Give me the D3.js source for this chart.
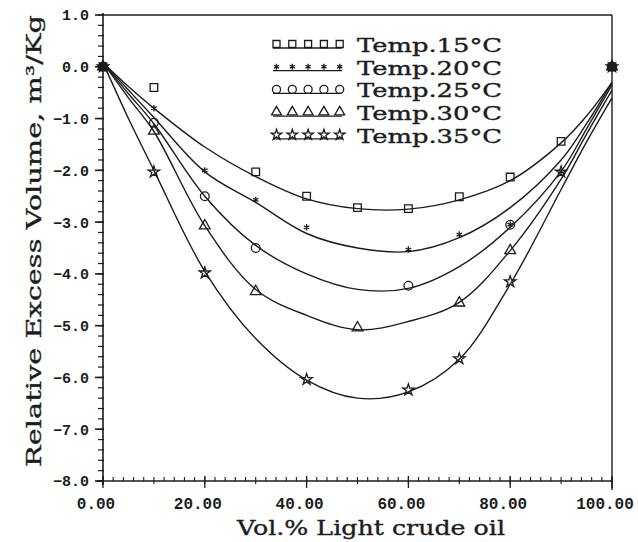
<!DOCTYPE html>
<html>
<head>
    <title>Relative Excess Volume</title>
    <script src="https://d3js.org/d3.v7.min.js"></script>
    <style>
        body { margin: 0; background: #fff; }
        .curve { fill: none; stroke: #1c1c1c; stroke-width: 1.4px; }
        .mark { fill: none; stroke: #1c1c1c; stroke-width: 1.3px; }
        .tick-label { font-family: "Liberation Mono", monospace; font-weight: bold; fill: #1c1c1c; }
        .title { font-family: "DejaVu Serif", serif; fill: #1c1c1c; stroke: #1c1c1c; stroke-width: 0.35px; }
    </style>
</head>
<body>
    <div id="chart"></div>
    <script>
        // temperatures in the legend
        const series = ["Temp.15°C", "Temp.20°C", "Temp.25°C", "Temp.30°C", "Temp.35°C"];

        // fitted curves at these x positions
        const curveX = [0, 5, 10, 20, 30, 40, 50, 60, 70, 80, 90, 95, 100];
        const fit15 = [0.08, -0.38, -0.8, -1.55, -2.12, -2.55, -2.74, -2.75, -2.57, -2.2, -1.47, -0.95, -0.3];
        const fit20 = [0.08, -0.45, -0.98, -2.03, -2.62, -3.22, -3.5, -3.57, -3.3, -2.72, -1.8, -1.1, -0.3];
        const fit25 = [0.08, -0.52, -1.1, -2.5, -3.45, -4.0, -4.3, -4.28, -3.86, -3.1, -2.02, -1.2, -0.35];
        const fit30 = [0.08, -0.6, -1.25, -3.07, -4.3, -4.8, -5.08, -4.92, -4.55, -3.55, -2.17, -1.3, -0.45];
        const fit35 = [0.08, -1.0, -2.0, -3.95, -5.25, -6.05, -6.4, -6.28, -5.65, -4.2, -2.37, -1.45, -0.6];

        // measured points
        const x15 = [0, 10, 30, 40, 50, 60, 70, 80, 90, 100];
        const y15 = [0, -0.4, -2.03, -2.5, -2.72, -2.74, -2.51, -2.13, -1.44, 0];
        const x20 = [0, 10, 20, 30, 40, 60, 70, 80, 90, 100];
        const y20 = [0, -0.8, -2.0, -2.57, -3.1, -3.53, -3.24, -3.05, -2.03, 0];
        const x25 = [0, 10, 20, 30, 60, 80, 100];
        const y25 = [0, -1.08, -2.5, -3.5, -4.23, -3.05, 0];
        const x30 = [0, 10, 20, 30, 50, 70, 80, 100];
        const y30 = [0, -1.24, -3.07, -4.34, -5.04, -4.56, -3.55, 0];
        const x35 = [0, 10, 20, 40, 60, 70, 80, 90, 100];
        const y35 = [0, -2.03, -3.98, -6.04, -6.24, -5.64, -4.15, -2.03, 0];

        // axis ticks
        const yTicks = [1, 0, -1, -2, -3, -4, -5, -6, -7, -8];
        const yTickLabels = ["1.0", "0.0", "\u22121.0", "\u22122.0", "\u22123.0", "\u22124.0", "\u22125.0", "\u22126.0", "\u22127.0", "\u22128.0"];
        const xTicks = [0, 20, 40, 60, 80, 100];
        const xTickLabels = ["0.00", "20.00", "40.00", "60.00", "80.00", "100.00"];

        const width = 638, height = 542;
        const svg = d3.select("#chart").append("svg")
            .attr("width", width).attr("height", height);

        const x = d3.scaleLinear().domain([0, 100]).range([103, 612]);
        const y = d3.scaleLinear().domain([-8, 1]).range([481, 15]);

        const fits = [fit15, fit20, fit25, fit30, fit35];
        const pts = [[x15, y15], [x20, y20], [x25, y25], [x30, y30], [x35, y35]];
        const asterisk = d3.symbolAsterisk || d3.symbolCross;
        const shapes = [
            { type: d3.symbolSquare, size: 58 },
            { type: asterisk, size: 28 },
            { type: d3.symbolCircle, size: 60 },
            { type: d3.symbolTriangle, size: 50 },
            { type: d3.symbolStar, size: 40 }
        ];

        // frame
        svg.append("line").attr("x1", x(0)).attr("x2", x(100)).attr("y1", y(1)).attr("y2", y(1))
            .attr("stroke", "#1c1c1c").attr("stroke-width", 1.4);
        svg.append("line").attr("x1", x(100)).attr("x2", x(100)).attr("y1", y(1)).attr("y2", y(-8) + 9)
            .attr("stroke", "#1c1c1c").attr("stroke-width", 1.4);
        svg.append("line").attr("x1", x(0) - 6).attr("x2", x(100)).attr("y1", y(-8)).attr("y2", y(-8))
            .attr("stroke", "#1c1c1c").attr("stroke-width", 1.6);
        svg.append("line").attr("x1", x(0)).attr("x2", x(0)).attr("y1", y(1) - 2).attr("y2", y(-8) + 4)
            .attr("stroke", "#1c1c1c").attr("stroke-width", 1.6);

        // y ticks: major every 1.0, minor every 0.2
        const yMinor = d3.range(-8, 1.0001, 0.2);
        svg.selectAll(".ymin").data(yMinor).enter().append("line")
            .attr("x1", x(0) - 5).attr("x2", x(0) + 1)
            .attr("y1", d => y(d)).attr("y2", d => y(d))
            .attr("stroke", "#1c1c1c").attr("stroke-width", 1.2);
        svg.selectAll(".ymaj").data(yTicks).enter().append("line")
            .attr("x1", x(0) - 8).attr("x2", x(0) + 1)
            .attr("y1", d => y(d)).attr("y2", d => y(d))
            .attr("stroke", "#1c1c1c").attr("stroke-width", 1.6);
        svg.selectAll(".ylab").data(yTicks).enter().append("text")
            .attr("class", "tick-label")
            .attr("x", 89).attr("y", d => y(d)).attr("dy", "0.36em")
            .attr("text-anchor", "end").attr("font-size", 15)
            .text((d, i) => yTickLabels[i]);

        // x ticks: minor every 2 pointing in, major every 20
        const xMinor = d3.range(0, 100.001, 2);
        svg.selectAll(".xmin").data(xMinor).enter().append("line")
            .attr("x1", d => x(d)).attr("x2", d => x(d))
            .attr("y1", y(-8)).attr("y2", y(-8) - 4)
            .attr("stroke", "#1c1c1c").attr("stroke-width", 1.1);
        svg.selectAll(".xmid").data(d3.range(0, 100.001, 10)).enter().append("line")
            .attr("x1", d => x(d)).attr("x2", d => x(d))
            .attr("y1", y(-8)).attr("y2", y(-8) + 3)
            .attr("stroke", "#1c1c1c").attr("stroke-width", 1.1);
        svg.selectAll(".xmaj").data(xTicks).enter().append("line")
            .attr("x1", d => x(d)).attr("x2", d => x(d))
            .attr("y1", y(-8) - 5).attr("y2", y(-8) + 7)
            .attr("stroke", "#1c1c1c").attr("stroke-width", 1.3);
        svg.selectAll(".xlab").data(xTicks).enter().append("text")
            .attr("class", "tick-label")
            .attr("x", d => x(d) - 7).attr("y", 509)
            .attr("text-anchor", "middle").attr("font-size", 16)
            .text((d, i) => xTickLabels[i]);

        // axis titles
        svg.append("text").attr("class", "title")
            .attr("transform", "translate(41,241) rotate(-90)")
            .attr("text-anchor", "middle").attr("font-size", 21)
            .attr("textLength", 452).attr("lengthAdjust", "spacingAndGlyphs")
            .text("Relative Excess Volume, m\u00B3/Kg");
        svg.append("text").attr("class", "title")
            .attr("x", 237).attr("y", 535).attr("font-size", 20)
            .attr("textLength", 268).attr("lengthAdjust", "spacingAndGlyphs")
            .text("Vol.% Light crude oil");

        // fitted curves
        const line = d3.line()
            .x((d, i) => x(curveX[i]))
            .y(d => y(d))
            .curve(d3.curveCatmullRom.alpha(0.5));
        svg.selectAll(".curve").data(fits).enter().append("path")
            .attr("class", "curve").attr("d", d => line(d));

        // markers
        pts.forEach(([xs, ys], k) => {
            const sym = d3.symbol().type(shapes[k].type).size(shapes[k].size);
            svg.selectAll(".m" + k).data(xs).enter().append("path")
                .attr("class", "mark")
                .attr("transform", (d, i) => `translate(${x(d)},${y(ys[i])})`)
                .attr("d", sym);
        });
        // the shared end points print as dark blobs
        svg.selectAll(".blob").data([0, 100]).enter().append("circle")
            .attr("cx", d => x(d)).attr("cy", y(0)).attr("r", 4)
            .attr("fill", "#1c1c1c");

        // legend
        const legend = svg.append("g");
        series.forEach((name, k) => {
            const base = 52 + k * 22.7;
            const g = legend.append("g");
            g.append("line").attr("x1", 273).attr("x2", 342)
                .attr("y1", base - 4).attr("y2", base - 4)
                .attr("stroke", "#1c1c1c").attr("stroke-width", 1.3);
            const sym = d3.symbol().type(shapes[k].type).size(shapes[k].size * 0.85);
            g.selectAll("path").data(d3.range(5)).enter().append("path")
                .attr("class", "mark")
                .attr("transform", i => `translate(${276.5 + i * 15.8},${base - 8})`)
                .attr("d", sym);
            g.append("text").attr("class", "title")
                .attr("x", 357).attr("y", base).attr("font-size", 18)
                .attr("textLength", 145).attr("lengthAdjust", "spacingAndGlyphs")
                .text(name);
        });
    </script>
</body>
</html>
